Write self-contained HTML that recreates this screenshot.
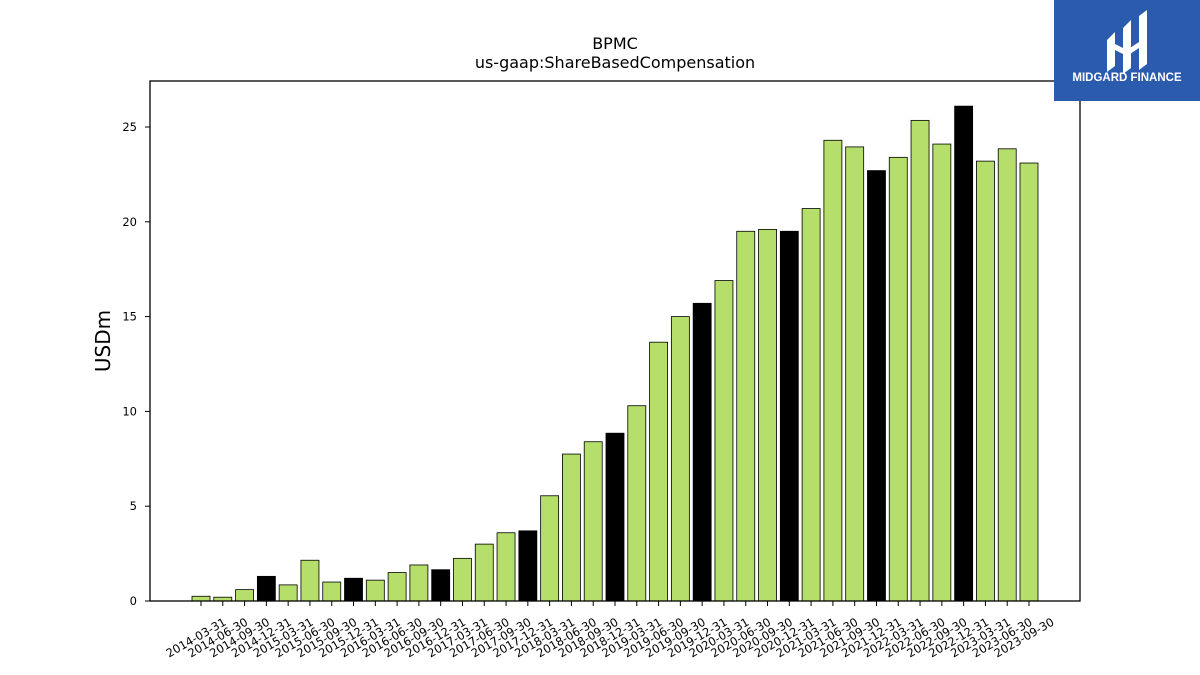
<!DOCTYPE html>
<html><head><meta charset="utf-8"><style>
body{margin:0;background:#fff;}
svg{display:block;font-family:"DejaVu Sans","Liberation Sans",sans-serif;}
</style></head><body>
<svg id="chart" width="1200" height="675">
<text x="615" y="49" font-size="16" text-anchor="middle">BPMC</text>
<text x="615" y="68" font-size="16" text-anchor="middle">us-gaap:ShareBasedCompensation</text>
<text transform="translate(110,341) rotate(-90)" font-size="20" text-anchor="middle">USDm</text>
<g id="bars"></g>
<g id="yticks"></g>
<g id="xticks"></g>
<rect x="150" y="81" width="930" height="520" fill="none" stroke="#000" stroke-width="1.3"/>
<g>
<rect x="1054" y="0" width="146" height="101" fill="#2b5bad"/>
<path d="M1107 40 L1115 32 L1115 66 L1107 72 Z M1123 28 L1131 20 L1131 68 L1123 74 Z M1139 16 L1147 10 L1147 64 L1139 70 Z M1115 44 L1127 50 L1139 42 L1139 48 L1127 56 L1115 50Z" fill="#fff"/>
<text x="1127" y="81" font-size="11.5" font-weight="bold" fill="#fff" text-anchor="middle" font-family="Liberation Sans, sans-serif">MIDGARD FINANCE</text>
</g>
</svg>
<script>
const categories=["2014-03-31","2014-06-30","2014-09-30","2014-12-31","2015-03-31","2015-06-30","2015-09-30","2015-12-31","2016-03-31","2016-06-30","2016-09-30","2016-12-31","2017-03-31","2017-06-30","2017-09-30","2017-12-31","2018-03-31","2018-06-30","2018-09-30","2018-12-31","2019-03-31","2019-06-30","2019-09-30","2019-12-31","2020-03-31","2020-06-30","2020-09-30","2020-12-31","2021-03-31","2021-06-30","2021-09-30","2021-12-31","2022-03-31","2022-06-30","2022-09-30","2022-12-31","2023-03-31","2023-06-30","2023-09-30"];
const values=[0.25,0.2,0.6,1.3,0.85,2.15,1.0,1.2,1.1,1.5,1.9,1.65,2.25,3.0,3.6,3.7,5.55,7.75,8.4,8.85,10.3,13.65,15.0,15.7,16.9,19.5,19.6,19.5,20.7,24.3,23.95,22.7,23.4,25.35,24.1,26.1,23.2,23.85,23.1];
const yTicks=[0,5,10,15,20,25];
const NS="http://www.w3.org/2000/svg";
const y0=601, pxPerUnit=18.96;
function yScale(v){return y0-v*pxPerUnit;}
function xScale(i){return 201+i*(1029-201)/(categories.length-1);}
const bars=document.getElementById('bars'),xt=document.getElementById('xticks'),yt=document.getElementById('yticks');
values.forEach((v,i)=>{
  const r=document.createElementNS(NS,'rect');
  
  
  const x=xScale(i);
  r.setAttribute('x',x-9);r.setAttribute('width',18);
  r.setAttribute('y',yScale(v));r.setAttribute('height',y0-yScale(v));
  r.setAttribute('fill',categories[i].endsWith('12-31')?'#000':'#b5de6a');
  r.setAttribute('stroke','#000');r.setAttribute('stroke-width','0.8');
  bars.appendChild(r);
});
categories.forEach((c,i)=>{
  const x=xScale(i);
  const l=document.createElementNS(NS,'line');
  
  
  l.setAttribute('x1',x);l.setAttribute('x2',x);l.setAttribute('y1',601);l.setAttribute('y2',606);l.setAttribute('stroke','#000');
  xt.appendChild(l);
  const t=document.createElementNS(NS,'text');
  
  
  t.setAttribute('font-size','11.5');t.setAttribute('text-anchor','middle');
  t.setAttribute('transform','translate('+(x-3)+',641) rotate(-30)');
  t.textContent=c;xt.appendChild(t);
});
yTicks.forEach(v=>{
  const y=yScale(v);
  const l=document.createElementNS(NS,'line');
  
  
  l.setAttribute('x1',145);l.setAttribute('x2',150);l.setAttribute('y1',y);l.setAttribute('y2',y);l.setAttribute('stroke','#000');
  yt.appendChild(l);
  const t=document.createElementNS(NS,'text');
  
  
  t.setAttribute('x',137);t.setAttribute('y',y+4);t.setAttribute('font-size','11.5');t.setAttribute('text-anchor','end');
  t.textContent=v;yt.appendChild(t);
});
</script>
</body></html>
